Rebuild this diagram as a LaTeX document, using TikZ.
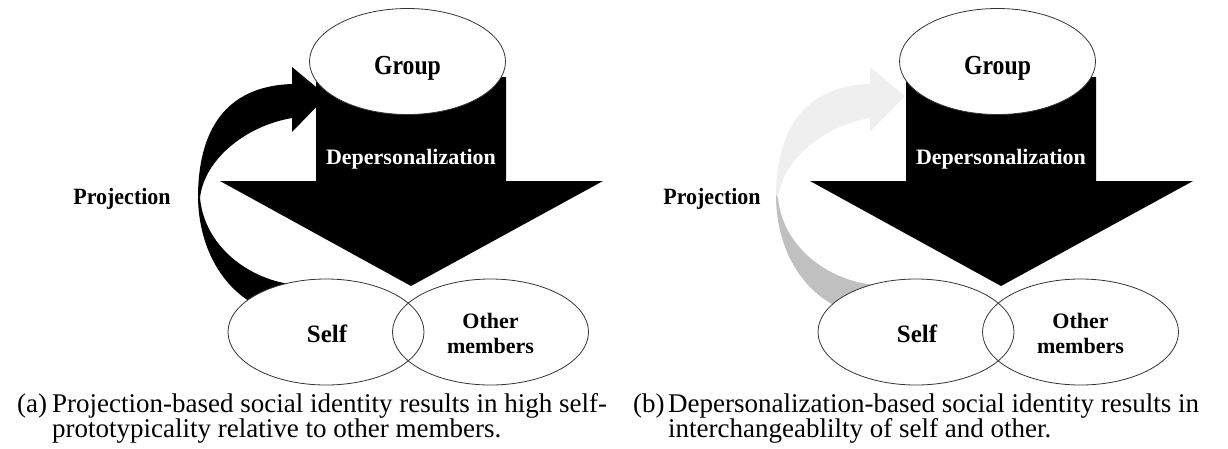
\documentclass[tikz,border=0pt]{standalone}
\usepackage{fontspec}
\setmainfont{Liberation Serif}
\usetikzlibrary{shapes.geometric}
\definecolor{bandlight}{HTML}{EFEFEF}
\definecolor{banddark}{HTML}{C0C0C0}
\definecolor{edge}{HTML}{333333}
\newcommand\mypanel[5]{%
\begin{scope}[xshift=#2]
  \begin{scope}[xshift=#5]
    \fill[#3] (198,195) .. controls (199,122) and (232,86) .. (292,84)
       -- (292,67) -- (327,96) -- (292,132) -- (292,118)
       .. controls (245,126) and (204,160) .. (200,198) -- cycle;
    \fill[#4] (198,195) .. controls (198,250) and (225,292) .. (262,308)
       -- (300,285) .. controls (255,283) and (205,250) .. (200,198) -- cycle;
  \end{scope}
  \fill[black] (316,77) -- (506,77) -- (506,181) -- (603,181) -- (411,286)
       -- (220,181) -- (316,181) -- cycle;
  \node[ellfill, elline] (group#1) at (407.5,61.5) {};
  \node[bigl, anchor=base] (grouplbl#1) at (407.5,74) {\scalebox{0.95}[1.1]{Group}};
  \node[midl, anchor=base, text=white] (dep#1) at (411,164) {Depersonalization};
  \node[midl, anchor=base] (proj#1) at (122,204) {\scalebox{1}[1.06]{Projection}};
  \node[ellfill] (self#1) at (326,332) {};
  \node[ellfill] (other#1) at (490.5,332) {};
  \node[elline] (selfo#1) at (self#1.center) {};
  \node[elline] (othero#1) at (other#1.center) {};
  \node[bigl, anchor=base] (selflbl#1) at (327,342) {Self};
  \node[midl, anchor=base] (oth#1) at (490.5,328) {Other};
  \node[midl, anchor=base] (mem#1) at (490.5,353) {members};
\end{scope}}
\begin{document}
\begin{tikzpicture}[x=1pt,y=-1pt,
  ellbase/.style={ellipse, minimum width=196pt, minimum height=106pt, inner sep=0pt, outer sep=0pt},
  ellfill/.style={ellbase, fill=white},
  elline/.style={ellbase, draw=edge, line width=0.8pt},
  bigl/.style={font=\bfseries\fontsize{25}{28}\selectfont, inner sep=0pt},
  midl/.style={font=\bfseries\fontsize{22}{25}\selectfont, inner sep=0pt},
  capl/.style={font=\fontsize{27}{25}\selectfont, inner sep=0pt, anchor=base west}]
\useasboundingbox (0,0) rectangle (1228,448);
\fill[white] (0,0) rectangle (1228,448);
\mypanel{a}{0pt}{black}{black}{0pt}
\mypanel{b}{590pt}{bandlight}{banddark}{-12pt}
\node[capl] (capa) at (17,412) {(a)};
\node[capl] (capa1) at (52,412) {Projection-based social identity results in high self-};
\node[capl] (capa2) at (52,437) {prototypicality relative to other members.};
\node[capl] (capb) at (633,412) {(b)};
\node[capl] (capb1) at (668,412) {Depersonalization-based social identity results in};
\node[capl] (capb2) at (668,437) {interchangeablilty of self and other.};
\end{tikzpicture}
\end{document}
